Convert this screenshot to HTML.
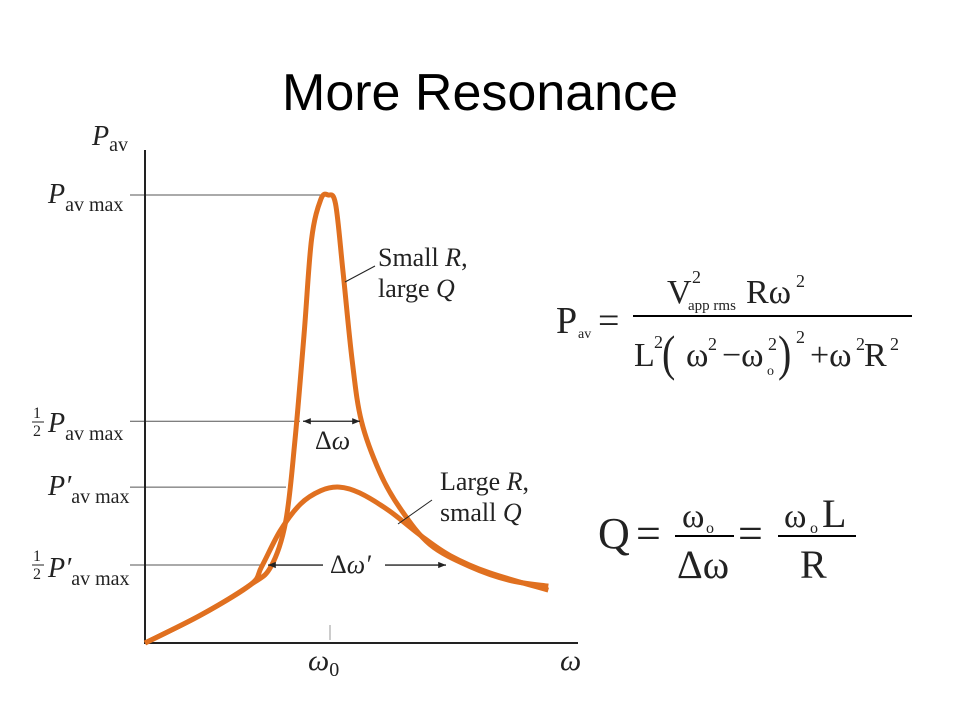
<!DOCTYPE html>
<html><head><meta charset="utf-8"><style>
body{margin:0;background:#fff;}
svg text{font-family:"Liberation Serif",serif;fill:#222;}
</style></head><body>
<svg width="960" height="720" viewBox="0 0 960 720">
<text x="480" y="110" text-anchor="middle" style="font-family:'Liberation Sans',sans-serif;font-size:52px;fill:#000">More Resonance</text>
<g id="chart"></g>
<g style="font-family:'Liberation Serif',serif" fill="#000">
<text x="556" y="333" font-size="38">P</text><text x="578" y="338" font-size="14">av</text>
<text x="598" y="333" font-size="38">=</text>
<text x="667" y="303" font-size="34">V</text><text x="692" y="283" font-size="18">2</text><text x="688" y="310" font-size="15">app rms</text>
<text x="746" y="303" font-size="34">Rω</text><text x="796" y="287" font-size="18">2</text>
<line x1="633" y1="316" x2="912" y2="316" stroke="#000" stroke-width="2"/>
<text x="634" y="366" font-size="34">L</text><text x="654" y="348" font-size="18">2</text>
<text x="662" y="370" font-size="50" transform="scale(0.8,1)" transform-origin="662 370">(</text>
<text x="686" y="366" font-size="34">ω</text><text x="708" y="350" font-size="18">2</text>
<text x="722" y="366" font-size="34">−ω</text><text x="768" y="350" font-size="18">2</text><text x="767" y="375" font-size="14">o</text>
<text x="778" y="370" font-size="50" transform="scale(0.8,1)" transform-origin="778 370">)</text>
<text x="796" y="343" font-size="18">2</text>
<text x="810" y="366" font-size="34">+ω</text><text x="856" y="350" font-size="18">2</text>
<text x="864" y="366" font-size="34">R</text><text x="890" y="350" font-size="18">2</text>
</g>
<g fill="#000" style="font-family:'Liberation Serif',serif">
<text x="598" y="548" font-size="44">Q</text>
<text x="636" y="548" font-size="44">=</text>
<text x="682" y="527" font-size="34">ω</text><text x="706" y="533" font-size="16">o</text>
<line x1="675" y1="536" x2="734" y2="536" stroke="#000" stroke-width="2"/>
<text x="677" y="578" font-size="40">Δω</text>
<text x="738" y="548" font-size="44">=</text>
<text x="784" y="527" font-size="34">ω</text><text x="810" y="533" font-size="16">o</text><text x="822" y="527" font-size="40">L</text>
<line x1="778" y1="536" x2="856" y2="536" stroke="#000" stroke-width="2"/>
<text x="800" y="578" font-size="40">R</text>
</g>
</svg>
<script>
const smallROmega=[0,0.30,0.57,0.68,0.76,0.81,0.86,0.90,0.95,0.99,1.03,1.07,1.12,1.17,1.27,1.38,1.54,1.76,1.97,2.18];
const smallRPower=[0,0.062,0.13,0.17,0.27,0.45,0.69,0.90,0.99,1.0,0.98,0.83,0.63,0.495,0.38,0.30,0.22,0.17,0.14,0.127];
const largeROmega=[0,0.30,0.57,0.63,0.73,0.84,0.95,1.05,1.16,1.32,1.49,1.65,1.86,2.18];
const largeRPower=[0,0.062,0.13,0.17,0.25,0.31,0.34,0.348,0.335,0.295,0.24,0.195,0.157,0.118];
const levels=[1.0,0.495,0.348,0.174];
const NS="http://www.w3.org/2000/svg";
const g=document.getElementById('chart');
const X=w=>145+w*185, Y=p=>643-p*448;
function el(t,a,p){const e=document.createElementNS(NS,t);for(const k in a)e.setAttribute(k,a[k]);(p||g).appendChild(e);return e;}
function path(xs,ys){const P=xs.map((x,i)=>[X(x),Y(ys[i])]);let d='M'+P[0];for(let i=0;i<P.length-1;i++){const p0=P[Math.max(0,i-1)],p1=P[i],p2=P[i+1],p3=P[Math.min(P.length-1,i+2)];d+=' C'+(p1[0]+(p2[0]-p0[0])/6)+','+(p1[1]+(p2[1]-p0[1])/6)+' '+(p2[0]-(p3[0]-p1[0])/6)+','+(p2[1]-(p3[1]-p1[1])/6)+' '+p2;}return d;}
// guide lines
const ends=[328,300,286,262];
levels.forEach((l,i)=>{const e=el('line',{x1:130,x2:ends[i],y1:Y(l),y2:Y(l),stroke:'#555','stroke-width':1});
});
const tk=el('line',{x1:X(1),x2:X(1),y1:625,y2:640,stroke:'#999','stroke-width':1});

// axes
const ax=el('path',{d:'M145,150 V643 H578',fill:'none',stroke:'#222','stroke-width':2});

// curves
const c1=el('path',{d:path(smallROmega,smallRPower),fill:'none',stroke:'#e07020','stroke-width':5});

const c2=el('path',{d:path(largeROmega,largeRPower),fill:'none',stroke:'#e07020','stroke-width':5});

// arrows
el('defs',{}).innerHTML='<marker id="ah" viewBox="0 0 10 10" refX="10" refY="5" markerWidth="6" markerHeight="6" orient="auto-start-reverse"><path d="M0,1 L10,5 L0,9z" fill="#222"/></marker>';
[[303,360,Y(levels[1])],[268,323,Y(levels[3])],[385,446,Y(levels[3])]].forEach((a,i)=>{
const e=el('line',{x1:a[0],x2:a[1],y1:a[2],y2:a[2],stroke:'#222','stroke-width':1.3});
if(i==0){e.setAttribute('marker-start','url(#ah)');e.setAttribute('marker-end','url(#ah)');}
else if(i==1)e.setAttribute('marker-start','url(#ah)');else e.setAttribute('marker-end','url(#ah)');
});
el('line',{x1:345,y1:282,x2:375,y2:266,stroke:'#222','stroke-width':1});
el('line',{x1:398,y1:524,x2:432,y2:500,stroke:'#222','stroke-width':1});
function txt(x,y,h,name,size){const e=el('text',{x:x,y:y,'font-size':size||26});e.innerHTML=h;return e;}
txt(92,145,'<tspan font-style="italic">P</tspan><tspan font-size="20" dy="6">av</tspan>','y-axis-title',28);
txt(48,203,'<tspan font-style="italic">P</tspan><tspan font-size="20" dy="8">av max</tspan>','label-pmax',28);
txt(48,432,'<tspan font-style="italic">P</tspan><tspan font-size="20" dy="8">av max</tspan>','label-half-pmax',28);
txt(48,495,'<tspan font-style="italic">P′</tspan><tspan font-size="20" dy="8">av max</tspan>','label-pprime-max',28);
txt(48,577,'<tspan font-style="italic">P′</tspan><tspan font-size="20" dy="8">av max</tspan>','label-half-pprime-max',28);
txt(33,418,'1','half-num-1',16);txt(33,436,'2','half-den-1',16);
el('line',{x1:32,x2:44,y1:422,y2:422,stroke:'#222','stroke-width':1});
txt(33,561,'1','half-num-2',16);txt(33,579,'2','half-den-2',16);
el('line',{x1:32,x2:44,y1:565,y2:565,stroke:'#222','stroke-width':1});
txt(378,266,'Small <tspan font-style="italic">R</tspan>,','small-r-label');
txt(378,297,'large <tspan font-style="italic">Q</tspan>','large-q-label');
txt(440,490,'Large <tspan font-style="italic">R</tspan>,','large-r-label');
txt(440,521,'small <tspan font-style="italic">Q</tspan>','small-q-label');
txt(315,449,'Δ<tspan font-style="italic">ω</tspan>','delta-omega-label');
txt(330,573,'Δ<tspan font-style="italic">ω′</tspan>','delta-omega-prime-label');
txt(308,670,'<tspan font-style="italic">ω</tspan><tspan font-size="20" dy="6">0</tspan>','omega0-label',30);
txt(560,670,'<tspan font-style="italic">ω</tspan>','x-axis-title',30);
</script>
</body></html>
